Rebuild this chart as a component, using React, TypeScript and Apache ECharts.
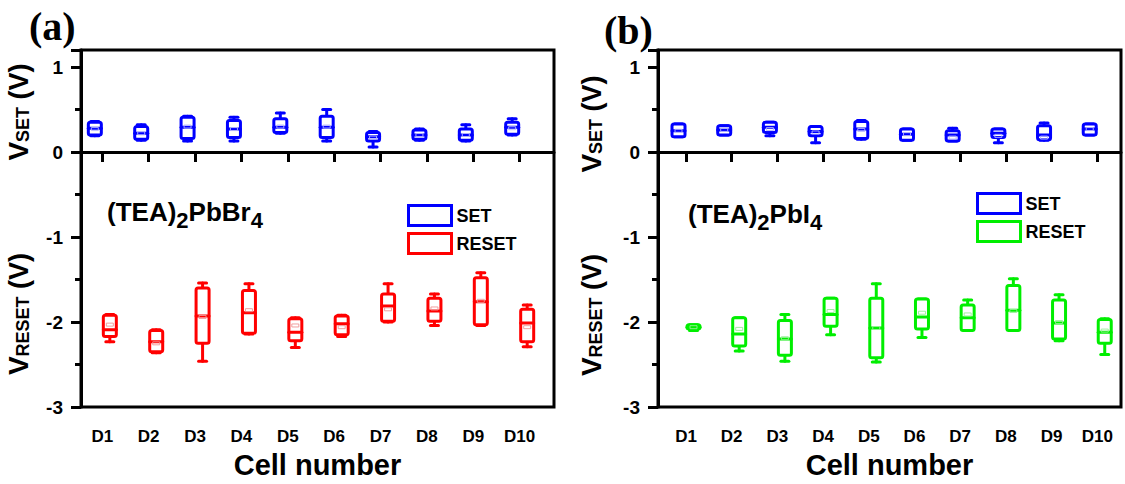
import React, { useEffect, useRef } from "react";
import * as echarts from "echarts";

// ---------- data ----------
const categories = ["D1", "D2", "D3", "D4", "D5", "D6", "D7", "D8", "D9", "D10"];
const seriesNames = ["SET", "RESET"];
const panelLabels = ["(a)", "(b)"];

// each box: [min, Q1, median, Q3, max, mean]
const leftSet = [
  [0.19, 0.2, 0.28, 0.35, 0.36, 0.27],
  [0.14, 0.15, 0.22, 0.3, 0.32, 0.22],
  [0.13, 0.16, 0.29, 0.41, 0.42, 0.3],
  [0.13, 0.17, 0.27, 0.37, 0.41, 0.27],
  [0.22, 0.23, 0.29, 0.39, 0.46, 0.3],
  [0.13, 0.17, 0.29, 0.42, 0.5, 0.3],
  [0.06, 0.13, 0.18, 0.23, 0.24, 0.17],
  [0.14, 0.15, 0.2, 0.26, 0.27, 0.2],
  [0.13, 0.14, 0.2, 0.27, 0.32, 0.2],
  [0.2, 0.21, 0.29, 0.35, 0.39, 0.28],
];
const leftReset = [
  [-2.23, -2.17, -2.09, -1.92, -1.91, -2.03],
  [-2.36, -2.35, -2.23, -2.1, -2.09, -2.25],
  [-2.46, -2.25, -1.93, -1.6, -1.54, -1.94],
  [-2.14, -2.13, -1.89, -1.63, -1.55, -1.86],
  [-2.3, -2.22, -2.12, -1.96, -1.95, -2.04],
  [-2.17, -2.15, -2.02, -1.93, -1.92, -2.06],
  [-2.0, -1.99, -1.81, -1.67, -1.55, -1.85],
  [-2.04, -1.99, -1.87, -1.72, -1.67, -1.84],
  [-2.04, -2.03, -1.76, -1.48, -1.42, -1.75],
  [-2.29, -2.23, -2.01, -1.85, -1.8, -2.06],
];
const rightSet = [
  [0.18, 0.18, 0.25, 0.33, 0.33, 0.25],
  [0.2, 0.2, 0.26, 0.31, 0.31, 0.26],
  [0.19, 0.23, 0.29, 0.35, 0.35, 0.27],
  [0.11, 0.19, 0.24, 0.3, 0.3, 0.23],
  [0.15, 0.16, 0.27, 0.36, 0.37, 0.26],
  [0.14, 0.14, 0.21, 0.27, 0.27, 0.21],
  [0.13, 0.13, 0.2, 0.25, 0.28, 0.17],
  [0.11, 0.17, 0.22, 0.27, 0.27, 0.19],
  [0.14, 0.145, 0.2, 0.31, 0.34, 0.17],
  [0.2, 0.2, 0.27, 0.33, 0.33, 0.27],
];
const rightReset = [
  [-2.1, -2.08, -2.06, -2.03, -2.03, -2.06],
  [-2.34, -2.28, -2.14, -1.95, -1.95, -2.08],
  [-2.46, -2.39, -2.2, -1.98, -1.91, -2.19],
  [-2.15, -2.05, -1.91, -1.72, -1.72, -1.87],
  [-2.47, -2.42, -2.07, -1.72, -1.55, -2.07],
  [-2.18, -2.08, -1.94, -1.73, -1.73, -1.89],
  [-2.1, -2.1, -1.95, -1.8, -1.74, -1.91],
  [-2.1, -2.1, -1.86, -1.57, -1.49, -1.87],
  [-2.22, -2.2, -2.01, -1.74, -1.68, -2.0],
  [-2.38, -2.25, -2.12, -1.97, -1.96, -2.1],
];

// ---------- styles ----------
const BLUE = "#0000ff";
const RED = "#ff0000";
const GREEN = "#00ee00";
const FONT = "'Liberation Sans', Arial, sans-serif";
const SERIF = "'Liberation Serif', 'Times New Roman', serif";

const toData = (rows: number[][]) => rows.map((r, i) => [i + 1, ...r]);
const xTickValues = categories.map((_, i) => i + 1);

function boxRenderer(offset: number, color: string, meanColor: string) {
  return (_params: any, api: any) => {
    const x = api.value(0);
    const py = (v: number) => api.coord([x, v])[1];
    const c = api.coord([x, api.value(1)])[0] + offset;
    const yMin = py(api.value(1));
    const yQ1 = py(api.value(2));
    const yMed = py(api.value(3));
    const yQ3 = py(api.value(4));
    const yMax = py(api.value(5));
    const yMean = py(api.value(6));
    const bw = 13;
    const cw = 8;
    const line = (x1: number, y1: number, x2: number, y2: number, w: number) => ({
      type: "line",
      shape: { x1, y1, x2, y2 },
      style: { stroke: color, lineWidth: w, lineCap: "round" },
    });
    return {
      type: "group",
      children: [
        line(c, yMax, c, yQ3, 3),
        line(c, yQ1, c, yMin, 3),
        line(c - cw / 2, yMax, c + cw / 2, yMax, 3),
        line(c - cw / 2, yMin, c + cw / 2, yMin, 3),
        {
          type: "rect",
          shape: { x: c - bw / 2, y: yQ3, width: bw, height: Math.max(yQ1 - yQ3, 1), r: 2 },
          style: { fill: "#fff", stroke: color, lineWidth: 3 },
        },
        line(c - bw / 2, yMed, c + bw / 2, yMed, 3),
        {
          type: "rect",
          shape: { x: c - 3.5, y: yMean - 1.5, width: 7, height: 3 },
          style: { fill: "none", stroke: meanColor, lineWidth: 1 },
        },
      ],
    };
  };
}

function makeXAxis(gridIndex: number, min: number, max: number) {
  return {
    type: "value",
    gridIndex,
    min,
    max,
    name: "Cell number",
    nameLocation: "middle",
    nameGap: 34,
    nameTextStyle: { fontFamily: FONT, fontWeight: "bold", fontSize: 29, color: "#000" },
    axisLine: { show: true, lineStyle: { color: "#000", width: 3 } },
    axisTick: { show: true, length: 10, lineStyle: { color: "#000", width: 3 }, customValues: xTickValues },
    axisLabel: {
      customValues: xTickValues,
      margin: 21,
      fontFamily: FONT,
      fontWeight: "bold",
      fontSize: 17,
      color: "#000",
      formatter: (v: number) => categories[Math.round(v) - 1] ?? "",
    },
    splitLine: { show: false },
  };
}

function makeYAxis(gridIndex: number) {
  return {
    type: "value",
    gridIndex,
    min: -3,
    max: 1.2,
    interval: 1,
    axisLine: { show: true, lineStyle: { color: "#000", width: 3 } },
    axisTick: { show: true, length: 10, lineStyle: { color: "#000", width: 3 } },
    minorTick: { show: true, splitNumber: 2, length: 6, lineStyle: { color: "#000", width: 3 } },
    axisLabel: {
      margin: 18,
      fontFamily: FONT,
      fontWeight: "bold",
      fontSize: 19,
      color: "#000",
      showMaxLabel: false,
    },
    splitLine: { show: false },
  };
}

const vLabel = (x: number, y: number, sub: string) => ({
  type: "text",
  x,
  y,
  rotation: Math.PI / 2,
  style: {
    text: `{v|V}{s|${sub}}{p| (V)}`,
    align: "center",
    verticalAlign: "bottom",
    fill: "#000",
    rich: {
      v: { fontSize: 28, fontWeight: "bold", fontFamily: FONT, fill: "#000", verticalAlign: "bottom", lineHeight: 28 },
      s: { fontSize: 18, fontWeight: "bold", fontFamily: FONT, fill: "#000", verticalAlign: "bottom", lineHeight: 18 },
      p: { fontSize: 27, fontWeight: "bold", fontFamily: FONT, fill: "#000", verticalAlign: "bottom", lineHeight: 27 },
    },
  },
});

const formula = (x: number, y: number, halide: string) => ({
  type: "text",
  x,
  y,
  style: {
    text: `{m|(TEA)}{s|2}{m|Pb${halide}}{s|4}`,
    align: "left",
    verticalAlign: "middle",
    fill: "#000",
    rich: {
      m: { fontSize: 26, fontWeight: "bold", fontFamily: FONT, fill: "#000", verticalAlign: "top", lineHeight: 28 },
      s: { fontSize: 22, fontWeight: "bold", fontFamily: FONT, fill: "#000", verticalAlign: "top", lineHeight: 22, padding: [10, 0, 0, 0] },
    },
  },
});

const panelText = (x: number, y: number, t: string) => ({
  type: "text",
  x,
  y,
  style: { text: t, fill: "#000", font: `bold 40px ${SERIF}`, align: "left", verticalAlign: "top" },
});

const legendCommon = {
  orient: "vertical",
  itemWidth: 43,
  itemHeight: 20,
  itemGap: 5,
  icon: "rect",
  selectedMode: false,
  textStyle: { fontFamily: FONT, fontWeight: "bold", fontSize: 18, color: "#000" },
};

const legendItem = (name: string, color: string) => ({
  name,
  icon: "rect",
  itemStyle: { color: "#fff", borderColor: color, borderWidth: 3 },
});

export default function App() {
  const ref = useRef<HTMLDivElement>(null);
  useEffect(() => {
    if (!ref.current) return;
    const chart = echarts.init(ref.current, null, { renderer: "svg" });
    chart.setOption({
      animation: false,
      backgroundColor: "#fff",
      grid: [
        { left: 81, top: 50, width: 473, height: 367, show: true, borderColor: "#000", borderWidth: 3, backgroundColor: "transparent" },
        { left: 658, top: 50, width: 463, height: 367, show: true, borderColor: "#000", borderWidth: 3, backgroundColor: "transparent" },
      ],
      xAxis: [makeXAxis(0, 0.54, 10.74), makeXAxis(1, 0.387, 10.52)],
      yAxis: [makeYAxis(0), makeYAxis(1)],
      legend: [
        { ...legendCommon, left: 402, top: 199, data: [legendItem(seriesNames[0], BLUE), legendItem(seriesNames[1], RED)] },
        { ...legendCommon, left: 971, top: 187, data: [legendItem(seriesNames[0], BLUE), legendItem(seriesNames[1], GREEN)] },
      ],
      series: [
        {
          type: "custom", name: seriesNames[0], xAxisIndex: 0, yAxisIndex: 0, clip: false,
          itemStyle: { color: BLUE },
          encode: { x: 0, y: [1, 2, 3, 4, 5, 6] },
          renderItem: boxRenderer(-7.5, BLUE, "rgba(180,180,255,0.9)"),
          data: toData(leftSet),
        },
        {
          type: "custom", name: seriesNames[1], xAxisIndex: 0, yAxisIndex: 0, clip: false,
          itemStyle: { color: RED },
          encode: { x: 0, y: [1, 2, 3, 4, 5, 6] },
          renderItem: boxRenderer(7.5, RED, "rgba(240,150,150,0.9)"),
          data: toData(leftReset),
        },
        {
          type: "custom", name: seriesNames[0], xAxisIndex: 1, yAxisIndex: 1, clip: false,
          itemStyle: { color: BLUE },
          encode: { x: 0, y: [1, 2, 3, 4, 5, 6] },
          renderItem: boxRenderer(-7.5, BLUE, "rgba(180,180,255,0.9)"),
          data: toData(rightSet),
        },
        {
          type: "custom", name: seriesNames[1], xAxisIndex: 1, yAxisIndex: 1, clip: false,
          itemStyle: { color: GREEN },
          encode: { x: 0, y: [1, 2, 3, 4, 5, 6] },
          renderItem: boxRenderer(7.5, GREEN, "rgba(150,240,150,0.9)"),
          data: toData(rightReset),
        },
      ],
      graphic: [
        panelText(29, 6, panelLabels[0]),
        panelText(604, 10, panelLabels[1]),
        vLabel(32, 112, "SET"),
        vLabel(32, 314, "RESET"),
        vLabel(605, 124, "SET"),
        vLabel(605, 315, "RESET"),
        formula(107, 213, "Br"),
        formula(688, 215, "I"),
      ],
    });
    return () => chart.dispose();
  }, []);
  return <div ref={ref} style={{ position: "absolute", left: 0, top: 0, width: 1125, height: 484 }} />;
}
